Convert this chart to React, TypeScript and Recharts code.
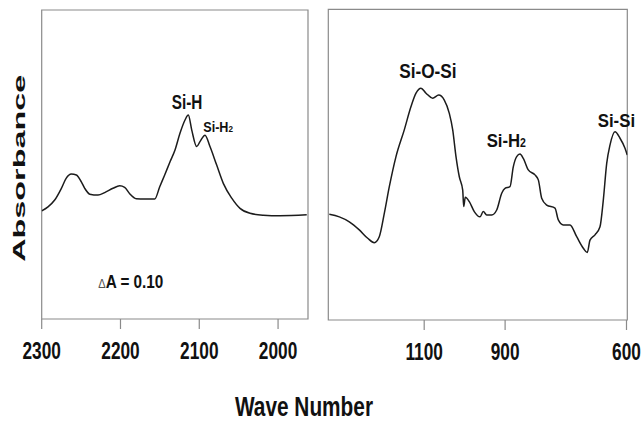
import { LineChart, Line, XAxis, YAxis, ReferenceArea } from 'recharts'

// left panel: Si-H stretching region (cm-1)
const leftWave = [
    2300, 2292, 2283.5, 2275, 2269, 2262.4, 2256, 2249.7, 2245.4, 2239, 2228.5, 2220, 2209.5, 2201,
    2194.7, 2188.3, 2180, 2169.3, 2156.6, 2150.2, 2143.9, 2137.1, 2130.8, 2124.5, 2118.1, 2113.9,
    2109.6, 2103.3, 2099.1, 2092.7, 2086.4, 2077.9, 2069.5, 2058.8, 2048.3, 2035.6, 2018.7, 1997.5,
    1963.6,
]
const leftAbs = [
    0.35, 0.363, 0.385, 0.423, 0.455, 0.469, 0.466, 0.444, 0.423, 0.404, 0.401, 0.409, 0.423, 0.431,
    0.426, 0.405, 0.389, 0.388, 0.388, 0.428, 0.466, 0.509, 0.547, 0.601, 0.644, 0.66,
    0.612, 0.558, 0.574, 0.595, 0.558, 0.498, 0.439, 0.391, 0.358, 0.342, 0.336, 0.334,
    0.337,
]
const leftTicks = [2300, 2200, 2100, 2000]
const leftDomain = [1962, 2300]

// right panel: 1337 - 598 cm-1
const rightWave = [
    1334.5, 1309.8, 1285.1, 1260.4, 1239.6, 1223.3, 1211, 1198.6, 1186.2, 1169.7, 1149.2, 1132.6,
    1120.2, 1107.9, 1095.5, 1079, 1064.1, 1050.3, 1037.9, 1029.5, 1021.4, 1013.2, 1004.8, 1002.3,
    998.4, 988.5, 976.2, 962.1, 953.9, 945.5, 933.1, 920.8, 908.4, 900.3, 887.9, 879.8, 871.4, 863.2,
    855, 842.7, 826.1, 817.9, 809.6, 797.2, 776.7, 768.5, 756.2, 739.6, 723.1, 706.7, 696.9, 690.2,
    677.8, 665.5, 657.3, 648.9, 640.8, 628.4, 616, 603.7, 598,
]
const rightAbs = [
    0.34, 0.332, 0.316, 0.29, 0.263, 0.249, 0.268, 0.343, 0.429, 0.526, 0.612, 0.687,
    0.73, 0.746, 0.73, 0.714, 0.724, 0.708, 0.665, 0.612, 0.526, 0.461, 0.418, 0.365,
    0.395, 0.381, 0.349, 0.332, 0.349, 0.338, 0.338, 0.354, 0.408, 0.424, 0.429, 0.493, 0.526, 0.534,
    0.52, 0.483, 0.467, 0.451, 0.392, 0.37, 0.36, 0.322, 0.306, 0.306, 0.268, 0.231, 0.217, 0.257,
    0.274, 0.3, 0.386, 0.504, 0.563, 0.606, 0.585, 0.553, 0.531,
]
const rightTicks = [1100, 900, 600]
const rightDomain = [598, 1337]

const leftData = leftWave.map((w, i) => ({ w, a: leftAbs[i] }))
const rightData = rightWave.map((w, i) => ({ w, a: rightAbs[i] }))

const FONT = "'Liberation Sans', Arial, sans-serif"
const FRAME = '#8a8a8a'
const INK = '#1c1c1c'

const NarrowTick = (props: any) => {
    const { x, y, payload } = props
    return (
        <g transform={`translate(${x},${y + 28})`}>
            <text transform="scale(0.72,1)" textAnchor="middle" fontSize={24} fontWeight="bold" fontFamily={FONT} fill="#111">
                {payload.value}
            </text>
        </g>
    )
}

// squeezed bold label, x/y = start (or middle) of baseline
const Squeezed = ({ x, y, sx, size, anchor = 'start', weight = 'bold', children }: any) => (
    <g transform={`translate(${x},${y})`}>
        <text transform={`scale(${sx},1)`} textAnchor={anchor} fontSize={size} fontWeight={weight} fontFamily={FONT} fill="#111">
            {children}
        </text>
    </g>
)

function Panel({ data, domain, ticks, width, margin }: any) {
    return (
        <LineChart width={width} height={421} data={data} margin={margin}>
            <XAxis
                dataKey="w"
                type="number"
                domain={domain}
                allowDataOverflow
                reversed
                ticks={ticks}
                interval={0}
                height={40}
                tickSize={10}
                axisLine={false}
                tickLine={{ stroke: FRAME, strokeWidth: 1.2 }}
                tick={<NarrowTick />}
            />
            <YAxis type="number" domain={[0, 1]} allowDataOverflow hide />
            <ReferenceArea x1={domain[0]} x2={domain[1]} y1={0} y2={1} fill="none" stroke={FRAME} strokeWidth={1.2} />
            <Line type="monotone" dataKey="a" stroke={INK} strokeWidth={1.5} dot={false} isAnimationActive={false} />
        </LineChart>
    )
}

export default function App() {
    return (
        <div style={{ position: 'fixed', left: 0, top: 0, width: 641, height: 421, background: '#fff' }}>
            <div style={{ position: 'absolute', left: 0, top: 0 }}>
                <Panel data={leftData} domain={leftDomain} ticks={leftTicks} width={320} margin={{ top: 10, left: 41.7, right: 12, bottom: 62 }} />
            </div>
            <div style={{ position: 'absolute', left: 320, top: 0 }}>
                <Panel data={rightData} domain={rightDomain} ticks={rightTicks} width={321} margin={{ top: 9.3, left: 8.3, right: 13.7, bottom: 61 }} />
            </div>
            <svg width={641} height={421} style={{ position: 'absolute', left: 0, top: 0, pointerEvents: 'none' }}>
                <text
                    transform="translate(25,168.3) rotate(-90)"
                    textAnchor="middle"
                    fontSize={17}
                    fontWeight="bold"
                    fontFamily={FONT}
                    fill="#111"
                    textLength={187}
                    lengthAdjust="spacingAndGlyphs"
                >
                    Absorbance
                </text>
                <text x={304} y={416} textAnchor="middle" fontSize={27} fontWeight="bold" fontFamily={FONT} fill="#111" textLength={138} lengthAdjust="spacingAndGlyphs">
                    Wave Number
                </text>
                <Squeezed x={187} y={109} sx={0.785} size={19.5} anchor="middle">Si-H</Squeezed>
                <Squeezed x={203.3} y={132} sx={0.9} size={14}>
                    Si-H<tspan fontSize={9}>2</tspan>
                </Squeezed>
                <Squeezed x={98.3} y={288.3} sx={0.85} size={18}>
                    <tspan fontSize={13} fontWeight="normal" fill="#555">Δ</tspan>A = 0.10
                </Squeezed>
                <Squeezed x={427.9} y={78.3} sx={0.82} size={21} anchor="middle">Si-O-Si</Squeezed>
                <Squeezed x={486.7} y={146.7} sx={0.88} size={19}>
                    Si-H<tspan fontSize={12}>2</tspan>
                </Squeezed>
                <Squeezed x={597.7} y={126.7} sx={0.885} size={19}>Si-Si</Squeezed>
            </svg>
        </div>
    )
}
